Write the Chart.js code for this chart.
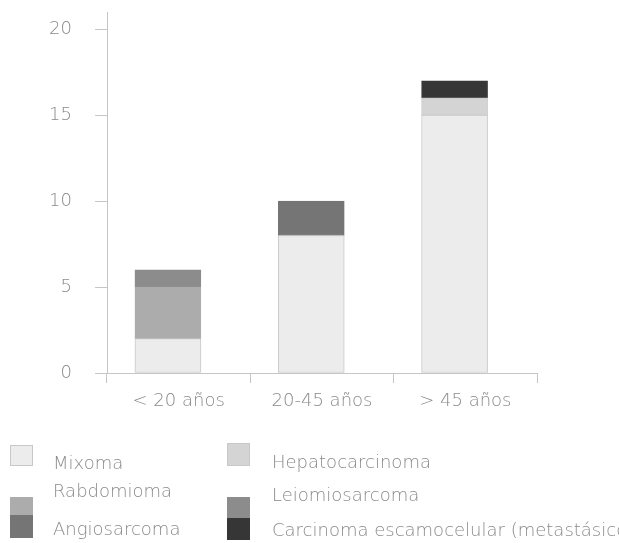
<!DOCTYPE html>
<html lang="es">
<head>
<meta charset="utf-8">
<script src="https://cdn.jsdelivr.net/npm/chart.js@4/dist/chart.umd.min.js"></script>
<style>
  html, body { margin: 0; padding: 0; background: #ffffff; overflow: hidden; }
  #wrap { position: relative; width: 619px; height: 543px; overflow: hidden; }
  #chartBox { position: absolute; left: 0; top: 0; width: 619px; height: 430px; }
  #legend { position: absolute; left: 0; top: 0; width: 619px; height: 543px; pointer-events: none; }
  .sw { position: absolute; box-sizing: border-box; }
  .lt { position: absolute; white-space: nowrap; color: #8a8a8a;
        font-family: "DejaVu Sans", sans-serif; font-weight: 200; font-size: 18px; line-height: 20px; }
</style>
</head>
<body>
<div id="wrap">
  <div id="chartBox"><canvas id="c"></canvas></div>
  <div id="legend"></div>
</div>
<script>
// Age groups on the x axis
const categories = ['< 20 años', '20-45 años', '> 45 años'];

// Number of cases per tumour type in each age group
const mixoma          = [2, 8, 15];
const rabdomioma      = [3, 0, 0];
const hepatocarcinoma = [0, 0, 1];
const leiomiosarcoma  = [1, 0, 0];
const angiosarcoma    = [0, 2, 0];
const carcinoma       = [0, 0, 1];

// Value axis ticks
const yTicks = [0, 5, 10, 15, 20];

const FONT = { family: '"DejaVu Sans", sans-serif', size: 18, weight: 200 };
const TEXT = '#8a8a8a';
const LINE = '#c6c6c6';

function points(values) {
  return values.map((v, i) => ({ x: i, y: v })).filter(p => p.y > 0);
}

function series(label, values, fill, edge) {
  return {
    label: label,
    data: points(values),
    backgroundColor: fill,
    borderColor: edge || fill,
    borderWidth: 1,
    borderSkipped: false,
    xAxisID: 'xb',
    yAxisID: 'y'
  };
}

const datasets = [
  series('Mixoma', mixoma, '#ececec', '#c8c8c8'),
  series('Rabdomioma', rabdomioma, '#acacac'),
  series('Hepatocarcinoma', hepatocarcinoma, '#d4d4d4', '#c8c8c8'),
  series('Leiomiosarcoma', leiomiosarcoma, '#8c8c8c'),
  series('Angiosarcoma', angiosarcoma, '#757575'),
  series('Carcinoma escamocelular (metastásico)', carcinoma, '#363636')
];

const chart = new Chart(document.getElementById('c'), {
  type: 'bar',
  data: { labels: categories, datasets: datasets },
  options: {
    responsive: true,
    maintainAspectRatio: false,
    animation: false,
    layout: { padding: { top: 12, right: 82, left: 0, bottom: 0 } },
    plugins: { legend: { display: false }, tooltip: { enabled: false } },
    datasets: { bar: { barThickness: 66 } },
    scales: {
      // bars sit slightly left of each category centre
      xb: {
        type: 'linear',
        display: false,
        offset: false,
        stacked: true,
        min: -0.425,
        max: 2.575
      },
      x: {
        type: 'category',
        position: 'bottom',
        offset: true,
        grid: { offset: true, drawOnChartArea: false, drawTicks: true, tickLength: 10, color: LINE },
        border: { color: LINE, width: 1 },
        ticks: { color: TEXT, font: FONT, padding: 8, maxRotation: 0 },
        afterFit: s => { s.height = 57; s.paddingLeft = 0; s.paddingRight = 0; }
      },
      y: {
        stacked: true,
        min: 0,
        max: 21,
        afterBuildTicks: s => { s.ticks = yTicks.map(v => ({ value: v })); },
        grid: { drawOnChartArea: false, drawTicks: true, tickLength: 12, color: LINE },
        border: { color: LINE, width: 1 },
        ticks: { color: TEXT, font: FONT, padding: 23 },
        afterFit: s => { s.width = 107; s.paddingTop = 0; s.paddingBottom = 0; }
      }
    }
  }
});

// Legend: two columns, swatches beside the labels
const legendOrder = [
  'Mixoma', 'Hepatocarcinoma',
  'Rabdomioma', 'Leiomiosarcoma',
  'Angiosarcoma', 'Carcinoma escamocelular (metastásico)'
];
const legendSlots = [
  { sx: 10,  sy: 445, sw: 23, sh: 21, tx: 53,  ty: 453 },
  { sx: 227, sy: 443, sw: 23, sh: 23, tx: 272, ty: 452 },
  { sx: 10,  sy: 497, sw: 23, sh: 18, tx: 53,  ty: 481 },
  { sx: 227, sy: 497, sw: 23, sh: 21, tx: 272, ty: 485 },
  { sx: 10,  sy: 515, sw: 23, sh: 23, tx: 53,  ty: 519 },
  { sx: 227, sy: 518, sw: 23, sh: 22, tx: 272, ty: 520 }
];
const legendEl = document.getElementById('legend');
legendOrder.forEach((name, i) => {
  const ds = chart.data.datasets.find(d => d.label === name);
  const slot = legendSlots[i];
  const sw = document.createElement('div');
  sw.className = 'sw';
  Object.assign(sw.style, {
    left: slot.sx + 'px', top: slot.sy + 'px', width: slot.sw + 'px', height: slot.sh + 'px',
    background: ds.backgroundColor, border: '1px solid ' + ds.borderColor
  });
  const tx = document.createElement('div');
  tx.className = 'lt';
  tx.textContent = ds.label;
  tx.style.left = slot.tx + 'px';
  tx.style.top = slot.ty + 'px';
  legendEl.appendChild(sw);
  legendEl.appendChild(tx);
});
</script>
</body>
</html>
